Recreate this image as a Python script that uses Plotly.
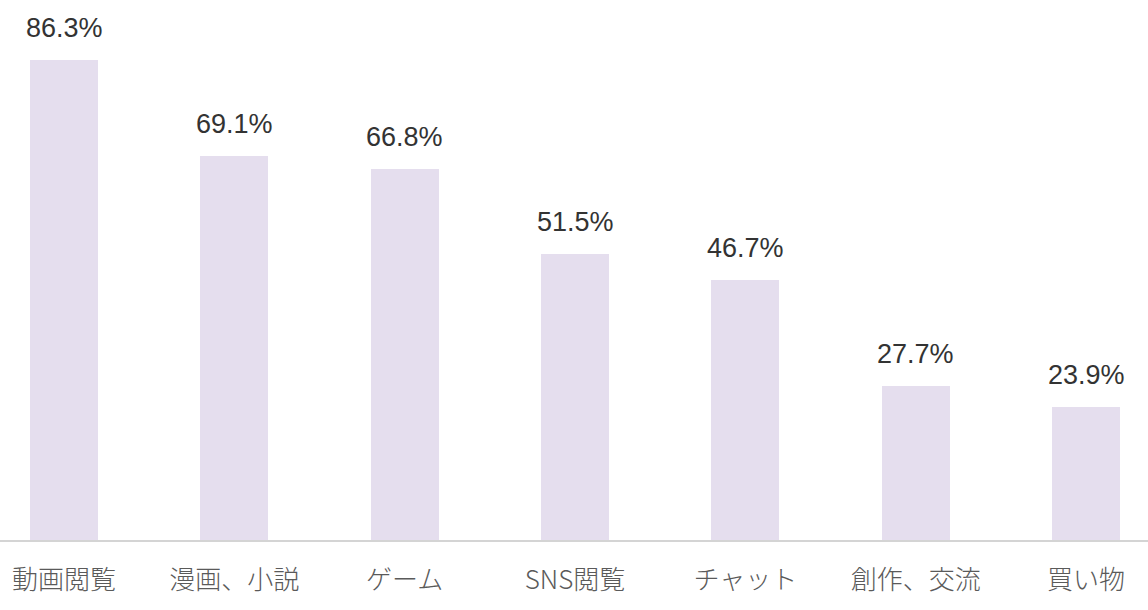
import plotly.graph_objects as go

categories = ["動画閲覧", "漫画、小説", "ゲーム", "SNS閲覧", "チャット", "創作、交流", "買い物"]
values = [86.3, 69.1, 66.8, 51.5, 46.7, 27.7, 23.9]
value_labels = [f"{v:.1f}%" for v in values]

fig = go.Figure()
fig.add_trace(go.Bar(
    x=list(range(len(categories))),
    y=values,
    width=0.40,
    marker=dict(color="#e5deee", line=dict(width=0)),
    hoverinfo="skip",
))

for i, (v, t) in enumerate(zip(values, value_labels)):
    fig.add_annotation(
        x=i, y=v, text=t, showarrow=False, yanchor="bottom", yshift=15,
        font=dict(family="Liberation Sans, Arial, sans-serif", size=27, color="#333333"),
    )

fig.update_layout(
    width=1148, height=610,
    margin=dict(l=0, r=0, t=0, b=70),
    paper_bgcolor="white", plot_bgcolor="white",
    showlegend=False,
    bargap=0,
    xaxis=dict(
        range=[-0.376, 6.364],
        tickmode="array",
        tickvals=list(range(len(categories))),
        ticktext=categories,
        showgrid=False, zeroline=False,
        showline=True, linecolor="#d4d4d4", linewidth=2,
        ticks="", ticklabelstandoff=16,
        tickfont=dict(family="Noto Sans CJK JP", size=26, color="#5a5a5a", weight=300),
    ),
    yaxis=dict(
        range=[0, 97.1], visible=False, showgrid=False, zeroline=False,
    ),
)

fig.write_html("out.html")
